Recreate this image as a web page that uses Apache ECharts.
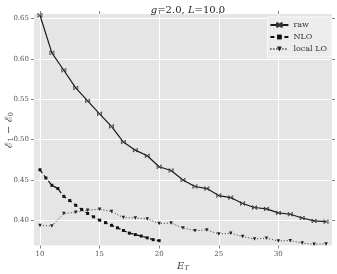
<!DOCTYPE html>
<html>
<head>
<meta charset="utf-8">
<script src="https://cdn.jsdelivr.net/npm/echarts@6/dist/echarts.min.js"></script>
<style>html,body{margin:0;padding:0;background:#fff}#c{width:337px;height:274px}</style>
</head>
<body>
<div id="c"></div>
<script>
var rawX = [10,11,12,13,14,15,16,17,18,19,20,21,22,23,24,25,26,27,28,29,30,31,32,33,34];
var rawY = [0.654,0.6074,0.5859,0.564,0.548,0.532,0.5164,0.497,0.487,0.480,0.4664,0.4618,0.450,0.442,0.4395,0.4308,0.4283,0.421,0.416,0.4143,0.4093,0.4077,0.403,0.3994,0.3985];
var nloX = [10,10.5,11,11.5,12,12.5,13,13.5,14,14.5,15,15.5,16,16.5,17,17.5,18,18.5,19,19.5,20];
var nloY = [0.4627,0.4525,0.4435,0.4395,0.4298,0.4246,0.4188,0.4136,0.4086,0.4045,0.4004,0.3973,0.394,0.3909,0.3876,0.3843,0.3825,0.3807,0.3785,0.3762,0.375];
var locX = [10,11,12,13,14,15,16,17,18,19,20,21,22,23,24,25,26,27,28,29,30,31,32,33,34];
var locY = [0.3936,0.3932,0.4085,0.4102,0.4127,0.4139,0.411,0.4035,0.4031,0.4019,0.3962,0.3969,0.3907,0.3874,0.3882,0.3833,0.3841,0.38,0.377,0.378,0.3746,0.375,0.372,0.3705,0.371];
var xTicks = [10,15,20,25,30];
var yTicks = [0.40,0.45,0.50,0.55,0.60,0.65];
var names = ['raw','NLO','local LO'];

function pairs(xs, ys){ return xs.map(function(x,i){ return [x, ys[i]]; }); }

var serif = '"DejaVu Serif", "Liberation Serif", serif';
var tickLbl = {fontFamily: serif, fontSize: 7, color: '#555'};
var tickStyle = {show: true, inside: false, length: 3, lineStyle: {color: '#666', width: 0.8}};

var chart = echarts.init(document.getElementById('c'), null, {renderer: 'canvas'});
var xSym = 'path://M0,0L10,10M10,0L0,10M0,0L0,10M10,0L10,10';
chart.setOption({
  animation: false,
  backgroundColor: '#fff',
  title: {
    text: '{i|g}=2.0, {i|L}=10.0',
    left: 183, top: 0, textAlign: 'center',
    textStyle: {fontFamily: serif, fontSize: 10, fontWeight: 'normal', color: '#222',
      rich: {i: {fontFamily: serif, fontSize: 10, fontStyle: 'italic', color: '#222'}}}
  },
  legend: {
    data: names,
    right: 6, top: 17,
    orient: 'vertical',
    itemWidth: 18, itemHeight: 6, itemGap: 4,
    padding: [4, 4, 4, 2],
    backgroundColor: '#ececec',
    borderColor: '#fafafa', borderWidth: 1,
    textStyle: {fontFamily: serif, fontSize: 8, color: '#333'}
  },
  grid: {left: 34, right: 5, top: 14, bottom: 28.5, show: true, backgroundColor: '#e5e5e5', borderWidth: 0,
         containLabel: false, outerBoundsMode: 'none'},
  xAxis: [{
    type: 'value', min: 9.5, max: 34.5,
    name: '{i|E}{s|T}', nameLocation: 'middle', nameGap: 15, nameMoveOverlap: false,
    nameTextStyle: {fontFamily: serif, fontSize: 10, color: '#444',
      rich: {i: {fontFamily: serif, fontStyle: 'italic', fontSize: 10, color: '#444'},
             s: {fontFamily: serif, fontStyle: 'italic', fontSize: 7, color: '#444', verticalAlign: 'bottom', padding: [4,0,0,0]}}},
    axisLine: {show: false},
    axisTick: Object.assign({customValues: xTicks}, tickStyle),
    axisLabel: Object.assign({customValues: xTicks, margin: 5}, tickLbl),
    splitLine: {show: true, lineStyle: {color: '#fff', width: 1}}
  }, {
    type: 'value', min: 9.5, max: 34.5, position: 'top',
    axisLine: {show: false},
    axisTick: Object.assign({customValues: xTicks}, tickStyle),
    axisLabel: {show: false},
    splitLine: {show: false}
  }],
  yAxis: [{
    type: 'value', min: 0.369, max: 0.6555,
    name: '{e|ℰ}{s|1} − {e|ℰ}{s|0}', nameLocation: 'middle', nameRotate: 90, nameGap: 19, nameMoveOverlap: false,
    nameTextStyle: {fontFamily: serif, fontSize: 10, color: '#444',
      rich: {e: {fontFamily: serif, fontSize: 10, color: '#444'},
             s: {fontFamily: serif, fontSize: 7, color: '#444', verticalAlign: 'bottom', padding: [4,0,0,0]}}},
    axisLine: {show: false},
    axisTick: Object.assign({customValues: yTicks}, tickStyle),
    axisLabel: Object.assign({customValues: yTicks, margin: 5, formatter: function(v){ return v.toFixed(2); }}, tickLbl),
    splitLine: {show: true, lineStyle: {color: '#fff', width: 1}}
  }, {
    type: 'value', min: 0.369, max: 0.6555, position: 'right',
    axisLine: {show: false},
    axisTick: Object.assign({customValues: yTicks}, tickStyle),
    axisLabel: {show: false},
    splitLine: {show: false}
  }],
  series: [{
    name: 'raw', type: 'line', data: pairs(rawX, rawY),
    symbol: xSym, symbolSize: 4, showAllSymbol: true,
    lineStyle: {color: '#1a1a1a', width: 1.2, type: 'solid'},
    itemStyle: {color: 'rgba(0,0,0,0)', borderColor: '#333', borderWidth: 0.8}
  }, {
    name: 'NLO', type: 'line', data: pairs(nloX, nloY),
    symbol: 'rect', symbolSize: 3, showAllSymbol: true,
    lineStyle: {color: '#111', width: 1.2, type: [4, 3]},
    itemStyle: {color: '#111'}
  }, {
    name: 'local LO', type: 'line', data: pairs(locX, locY),
    symbol: 'path://M0,0L10,0L5,9Z', symbolSize: 3.5, showAllSymbol: true,
    lineStyle: {color: '#333', width: 1, type: [1, 2]},
    itemStyle: {color: '#222'}
  }]
});
</script>
</body>
</html>
